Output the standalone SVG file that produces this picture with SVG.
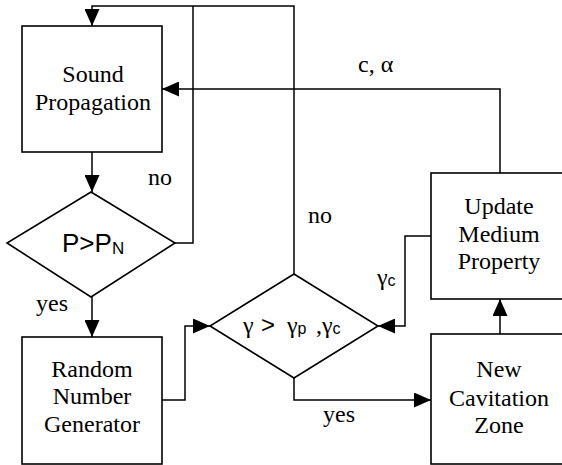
<svg xmlns="http://www.w3.org/2000/svg" width="562" height="465" viewBox="0 0 562 465">
<style>
.box{fill:#fff;stroke:#000;stroke-width:1.6}
.con{fill:none;stroke:#000;stroke-width:1.5}
.t{font-size:24px;fill:#000;text-anchor:middle}
.tl{font-size:24px;fill:#000}
</style>
<defs>
<marker id="ah" markerUnits="userSpaceOnUse" markerWidth="17" markerHeight="15" refX="17" refY="7.5" orient="auto">
<path d="M0,0 L17,7.5 L0,15 z" fill="#000"/>
</marker>
</defs>
<rect width="562" height="465" fill="#fff"/>
<g id="connectors">
<path class="con" d="M294,274 V6 H92 V26" marker-end="url(#ah)"/>
<path class="con" d="M175,243 H193 V6"/>
<path class="con" d="M92,152 V192" marker-end="url(#ah)"/>
<path class="con" d="M92,297 V337" marker-end="url(#ah)"/>
<path class="con" d="M162,400 H185 V326 H210" marker-end="url(#ah)"/>
<path class="con" d="M294,378 V400 H431" marker-end="url(#ah)"/>
<path class="con" d="M500,334 V299" marker-end="url(#ah)"/>
<path class="con" d="M431,236 H405 V326 H378" marker-end="url(#ah)"/>
<path class="con" d="M500,173 V89 H162" marker-end="url(#ah)"/>
<g font-family="'Liberation Serif', 'Times New Roman', serif">
<text class="tl" x="148" y="185">no</text>
<text class="tl" x="308" y="223">no</text>
<text class="tl" x="36" y="311">yes</text>
<text class="tl" x="323" y="422">yes</text>
<text class="tl" x="358" y="72">c, α</text>
<text class="tl" x="377" y="285">γ<tspan font-family="'Liberation Sans', Arial, sans-serif" font-size="16" dy="1">c</tspan></text>
</g>
</g>
<g id="sound" font-family="'Liberation Serif', 'Times New Roman', serif">
<rect class="box" x="22" y="26" width="140" height="126"/>
<text class="t" x="93" y="82">Sound</text>
<text class="t" x="93" y="110">Propagation</text>
</g>
<g id="pcheck" font-family="'Liberation Sans', Arial, sans-serif">
<polygon class="box" points="91,192 175,243 91,297 7,243"/>
<text x="62" y="252" font-size="26">P&gt;P<tspan font-size="17" dy="2">N</tspan></text>
</g>
<g id="random" font-family="'Liberation Serif', 'Times New Roman', serif">
<rect class="box" x="22" y="337" width="140" height="127"/>
<text class="t" x="92" y="377">Random</text>
<text class="t" x="92" y="404">Number</text>
<text class="t" x="92" y="432">Generator</text>
</g>
<g id="gcheck" font-family="'Liberation Serif', 'Times New Roman', serif">
<polygon class="box" points="294,274 378,326 294,378 210,326"/>
<text class="tl" y="333"><tspan x="243">γ</tspan><tspan font-family="'Liberation Sans', Arial, sans-serif" x="261">&gt;</tspan><tspan x="287">γ</tspan><tspan font-family="'Liberation Sans', Arial, sans-serif" font-size="16" dy="1">p</tspan><tspan x="316" dy="-1">,γ</tspan><tspan font-family="'Liberation Sans', Arial, sans-serif" font-size="16" dy="1">c</tspan></text>
</g>
<g id="update" font-family="'Liberation Serif', 'Times New Roman', serif">
<rect class="box" x="431" y="173" width="140" height="126"/>
<text class="t" x="499" y="214">Update</text>
<text class="t" x="499" y="242">Medium</text>
<text class="t" x="499" y="269">Property</text>
</g>
<g id="newcav" font-family="'Liberation Serif', 'Times New Roman', serif">
<rect class="box" x="431" y="334" width="140" height="130"/>
<text class="t" x="499" y="377">New</text>
<text class="t" x="499" y="406">Cavitation</text>
<text class="t" x="499" y="433">Zone</text>
</g>
</svg>
